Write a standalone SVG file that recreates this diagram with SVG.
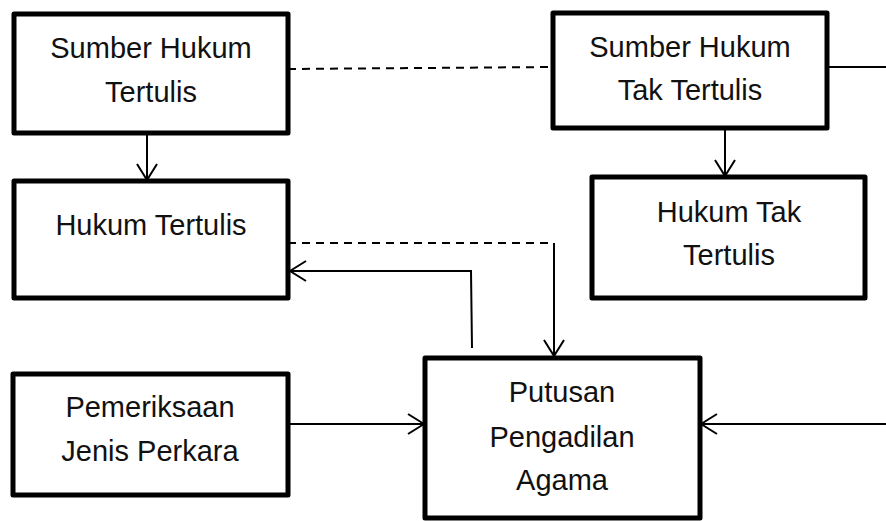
<svg xmlns="http://www.w3.org/2000/svg" width="886" height="521" viewBox="0 0 886 521">
  <style>
    .box { fill: #ffffff; stroke: #000000; stroke-width: 5; stroke-linejoin: round; }
    .lbl { font-family: "Liberation Sans", Arial, sans-serif; font-size: 29px; fill: #111111; text-anchor: middle; }
    .con { fill: none; stroke: #000000; stroke-width: 2; }
    .dash { stroke-dasharray: 8 6; }
  </style>
  <defs>
    <marker id="arr" viewBox="0 0 18 22" refX="17" refY="11" markerWidth="18" markerHeight="22" markerUnits="userSpaceOnUse" orient="auto">
      <path d="M1,1 L17,11 L1,21" fill="none" stroke="#000000" stroke-width="2"/>
    </marker>
  </defs>
  <rect width="886" height="521" fill="#ffffff"/>

  <g id="connectors">
    <path class="con" d="M147,133 L147,180" marker-end="url(#arr)"/>
    <path class="con" d="M725,128 L725,176" marker-end="url(#arr)"/>
    <path class="con dash" d="M288,69 L553,67"/>
    <path class="con" d="M827,67 L886,67"/>
    <path class="con dash" d="M288,243 L554,243"/>
    <path class="con" d="M554,243 L554,356" marker-end="url(#arr)"/>
    <path class="con" d="M472,348 L471,271 L290,271" marker-end="url(#arr)"/>
    <path class="con" d="M288,424 L424,424" marker-end="url(#arr)"/>
    <path class="con" d="M886,424 L701,424" marker-end="url(#arr)"/>
  </g>

  <g id="sumber-hukum-tertulis">
    <rect class="box" x="14" y="14" width="274" height="119"/>
    <text class="lbl" x="151" y="58">Sumber Hukum</text>
    <text class="lbl" x="151" y="102">Tertulis</text>
  </g>

  <g id="hukum-tertulis">
    <rect class="box" x="14" y="181" width="274" height="117"/>
    <text class="lbl" x="151" y="235">Hukum Tertulis</text>
  </g>

  <g id="sumber-hukum-tak-tertulis">
    <rect class="box" x="553" y="13" width="274" height="115"/>
    <text class="lbl" x="690" y="57">Sumber Hukum</text>
    <text class="lbl" x="690" y="100">Tak Tertulis</text>
  </g>

  <g id="hukum-tak-tertulis">
    <rect class="box" x="592" y="177" width="273" height="121"/>
    <text class="lbl" x="729" y="222">Hukum Tak</text>
    <text class="lbl" x="729" y="265">Tertulis</text>
  </g>

  <g id="pemeriksaan-jenis-perkara">
    <rect class="box" x="13" y="374" width="275" height="121"/>
    <text class="lbl" x="150" y="417">Pemeriksaan</text>
    <text class="lbl" x="150" y="461">Jenis Perkara</text>
  </g>

  <g id="putusan-pengadilan-agama">
    <rect class="box" x="425" y="358" width="275" height="160"/>
    <text class="lbl" x="562" y="402">Putusan</text>
    <text class="lbl" x="562" y="447">Pengadilan</text>
    <text class="lbl" x="562" y="490">Agama</text>
  </g>
</svg>
